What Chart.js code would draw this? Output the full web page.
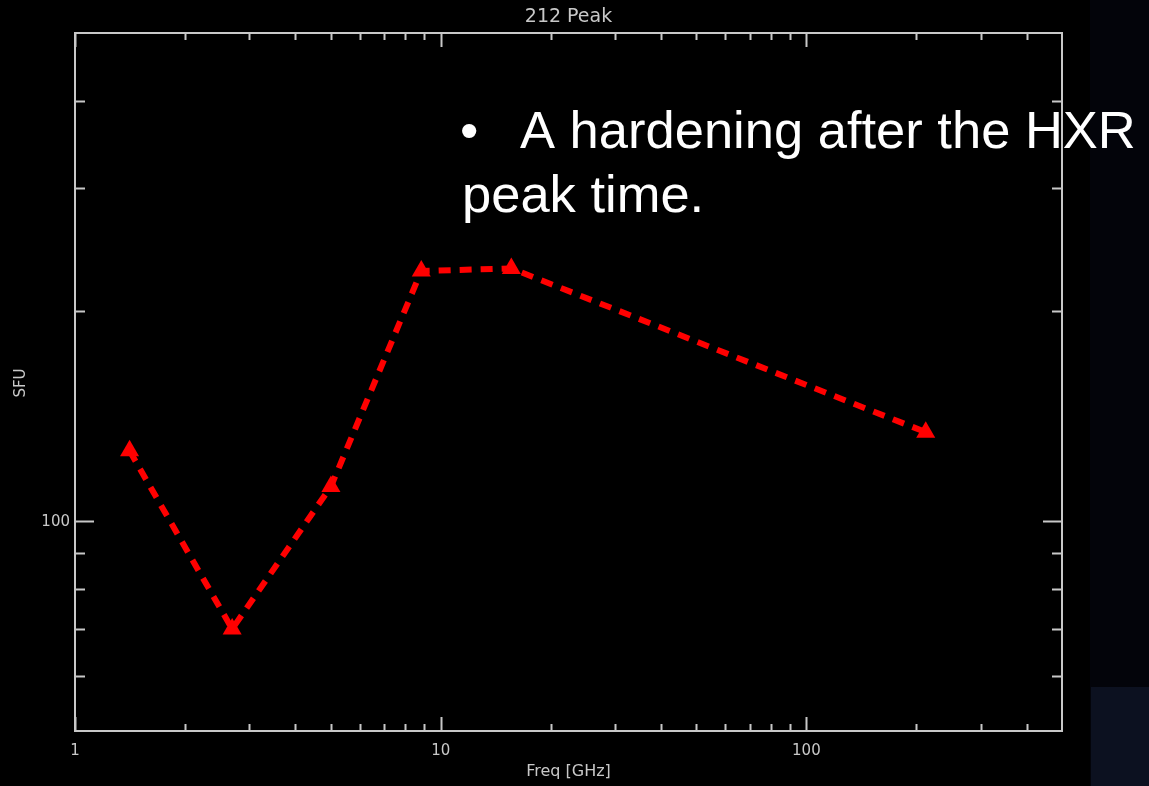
<!DOCTYPE html>
<html>
<head>
<meta charset="utf-8">
<script src="https://cdn.jsdelivr.net/npm/chart.js@4.4.1/dist/chart.umd.min.js"></script>
<style>
  html, body { margin: 0; padding: 0; background: #000; }
  #wrap { position: relative; width: 1149px; height: 786px; background: #000; overflow: hidden; }
  #strip { position: absolute; left: 1090px; top: 0; width: 59px; height: 786px; background: #03040a; }
  #box { position: absolute; left: 1091px; top: 687px; width: 58px; height: 99px; background: #0c1120; }
  #c { position: absolute; left: 0; top: 0; }
</style>
</head>
<body>
<div id="wrap">
  <div id="strip"></div>
  <div id="box"></div>
  <canvas id="c" width="1149" height="786"></canvas>
</div>
<script>
// ---- data ----
const chartTitle = "212 Peak";
const xTitle = "Freq [GHz]";
const yTitle = "SFU";
const freqGHz = [1.41, 2.69, 5.01, 8.85, 15.6, 212];
const fluxSFU = [126, 70, 112, 228, 230, 134];
const xMajorTicks = [1, 10, 100];
const xMajorLabels = ["1", "10", "100"];
const xMinorTicks = [2, 3, 4, 5, 6, 7, 8, 9, 20, 30, 40, 50, 60, 70, 80, 90, 200, 300, 400];
const yMajorTicks = [100];
const yMajorLabels = ["100"];
const yMinorTicks = [60, 70, 80, 90, 200, 300, 400];
const overlayLines = ["A hardening after the HXR", "peak time."];

const FG = "#c8c8c8";

const idlFrame = {
  id: "idlFrame",
  afterDatasetsDraw(chart) {
    const ctx = chart.ctx;
    const a = chart.chartArea;
    const xs = chart.scales.x, ys = chart.scales.y;
    ctx.save();
    ctx.strokeStyle = FG;
    ctx.lineWidth = 2;
    ctx.strokeRect(a.left, a.top, a.right - a.left, a.bottom - a.top);
    ctx.beginPath();
    const xt = (v, len) => {
      const px = Math.round(xs.getPixelForValue(v)) + 0.5;
      ctx.moveTo(px, a.bottom); ctx.lineTo(px, a.bottom - len);
      ctx.moveTo(px, a.top); ctx.lineTo(px, a.top + len);
    };
    const yt = (v, len) => {
      const py = Math.round(ys.getPixelForValue(v)) + 0.5;
      ctx.moveTo(a.left, py); ctx.lineTo(a.left + len, py);
      ctx.moveTo(a.right, py); ctx.lineTo(a.right - len, py);
    };
    xMajorTicks.forEach(v => xt(v, 14));
    xMinorTicks.forEach(v => xt(v, 7));
    yMajorTicks.forEach(v => yt(v, 19));
    yMinorTicks.forEach(v => yt(v, 10));
    ctx.lineWidth = 2;
    ctx.stroke();

    ctx.fillStyle = FG;
    ctx.font = "15px 'DejaVu Sans'";
    ctx.textAlign = "center";
    ctx.textBaseline = "middle";
    xMajorTicks.forEach((v, i) => {
      ctx.fillText(xMajorLabels[i], xs.getPixelForValue(v), a.bottom + 20);
    });
    ctx.textAlign = "right";
    yMajorTicks.forEach((v, i) => {
      ctx.fillText(yMajorLabels[i], a.left - 5, ys.getPixelForValue(v) + 1);
    });
    ctx.textAlign = "center";
    ctx.font = "16px 'DejaVu Sans'";
    ctx.fillText(xTitle, (a.left + a.right) / 2, a.bottom + 41);
    ctx.font = "19px 'DejaVu Sans'";
    ctx.fillText(chartTitle, (a.left + a.right) / 2, a.top - 16);
    ctx.save();
    ctx.translate(21, 383);
    ctx.rotate(-Math.PI / 2);
    ctx.font = "15px 'DejaVu Sans'";
    ctx.fillText(yTitle, 0, 0);
    ctx.restore();
    ctx.restore();
  },
  afterDraw(chart) {
    const ctx = chart.ctx;
    ctx.save();
    ctx.fillStyle = "#ffffff";
    ctx.font = "52.5px 'Liberation Sans', Arial, sans-serif";
    ctx.textAlign = "left";
    ctx.textBaseline = "alphabetic";
    ctx.fillText("\u2022", 460, 148);
    ctx.fillText(overlayLines[0], 520, 148);
    ctx.fillText(overlayLines[1], 462, 212);
    ctx.restore();
  }
};

new Chart(document.getElementById("c"), {
  type: "line",
  data: {
    datasets: [{
      data: freqGHz.map((f, i) => ({ x: f, y: fluxSFU[i] })),
      borderColor: "#ff0000",
      backgroundColor: "#ff0000",
      borderWidth: 6,
      borderDash: [12, 9],
      borderCapStyle: "butt",
      tension: 0,
      fill: false,
      pointStyle: "triangle",
      pointRadius: 11,
      pointBorderWidth: 0,
      pointBackgroundColor: "#ff0000",
      pointBorderColor: "#ff0000"
    }]
  },
  options: {
    responsive: false,
    animation: false,
    layout: { padding: { left: 75, right: 87, top: 33, bottom: 55 } },
    plugins: { legend: { display: false }, tooltip: { enabled: false }, title: { display: false } },
    scales: {
      x: { type: "logarithmic", min: 1, max: 500, display: false },
      y: { type: "logarithmic", min: 50, max: 500, display: false }
    }
  },
  plugins: [idlFrame]
});
</script>
</body>
</html>
